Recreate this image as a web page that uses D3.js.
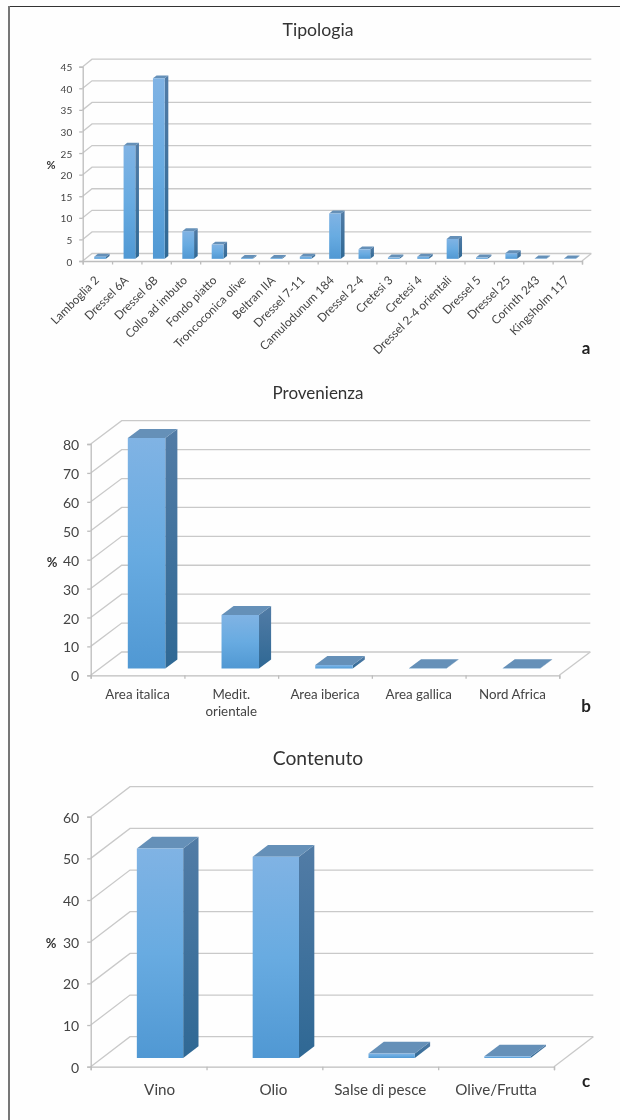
<!DOCTYPE html>
<html>
<head>
<meta charset="utf-8">
<script src="https://cdn.jsdelivr.net/npm/d3@7"></script>
<style>
    html, body { margin: 0; padding: 0; background: #fff; }
    svg { display: block; filter: blur(0.4px); }
    text { font-family: Lato, "Open Sans", sans-serif; fill: #444; }
</style>
</head>
<body>
<div id="chart"></div>
<script>
// Tipologia
const tipologiaCats = ["Lamboglia 2", "Dressel 6A", "Dressel 6B", "Collo ad imbuto", "Fondo piatto",
    "Troncoconica olive", "Beltran IIA", "Dressel 7-11", "Camulodunum 184", "Dressel 2-4", "Cretesi 3",
    "Cretesi 4", "Dressel 2-4 orientali", "Dressel 5", "Dressel 25", "Corinth 243", "Kingsholm 117"];
const tipologiaVals = [0.5, 26.2, 41.8, 6.4, 3.3, 0.2, 0.2, 0.5, 10.5, 2.2, 0.3, 0.5, 4.6, 0.3, 1.3, 0.1, 0.1];
const tipologiaTicks = [0, 5, 10, 15, 20, 25, 30, 35, 40, 45];

// Provenienza
const provenienzaCats = ["Area italica", "Medit.\norientale", "Area iberica", "Area gallica", "Nord Africa"];
const provenienzaVals = [79.7, 18.5, 1.2, 0.1, 0.1];
const provenienzaTicks = [0, 10, 20, 30, 40, 50, 60, 70, 80];

// Contenuto
const contenutoCats = ["Vino", "Olio", "Salse di pesce", "Olive/Frutta"];
const contenutoVals = [50.3, 48.3, 1.1, 0.4];
const contenutoTicks = [0, 10, 20, 30, 40, 50, 60];

const gridColor = "#c9c9c9";

const svg = d3.select("#chart").append("svg")
    .attr("width", 620)
    .attr("height", 1120);

const defs = svg.append("defs");

// Excel style gradients for the 3d bars
function addGradient(id, stops) {
    const g = defs.append("linearGradient")
        .attr("id", id)
        .attr("x1", 0).attr("y1", 0)
        .attr("x2", 0).attr("y2", 1);
    stops.forEach(s => g.append("stop").attr("offset", s[0]).attr("stop-color", s[1]));
}
addGradient("barFront", [[0, "#80b3e4"], [0.5, "#68abe1"], [1, "#5098d3"]]);
addGradient("barSide", [[0, "#527ca6"], [1, "#2f6894"]]);

svg.append("rect").attr("width", 620).attr("height", 1120).attr("fill", "#fefefe");

// page frame, only top and left
svg.append("line").attr("x1", 9).attr("x2", 620).attr("y1", 6.5).attr("y2", 6.5)
    .attr("stroke", "#333").attr("stroke-width", 1);
svg.append("line").attr("x1", 9).attr("x2", 9).attr("y1", 6).attr("y2", 1120)
    .attr("stroke", "#777").attr("stroke-width", 2);

function draw3dChart(cfg) {
    const g = svg.append("g");

    const x = d3.scaleBand().domain(cfg.cats).range([cfg.left, cfg.right]).paddingInner(0).paddingOuter(0);
    const y = d3.scaleLinear().domain([0, d3.max(cfg.ticks)]).range([cfg.bottom, cfg.top]);

    // d = depth into the chart, 0 is the front plane and 1 the back wall
    const px = (sx, d) => sx + d * cfg.dx;
    const py = (v, d) => y(v) - d * cfg.dy;
    const poly = pts => pts.map(p => p.join(",")).join(" ");

    // back wall and side wall lines
    cfg.ticks.forEach(t => {
        g.append("polyline")
            .attr("points", poly([[px(cfg.left, 0), py(t, 0)], [px(cfg.left, 1), py(t, 1)], [px(cfg.right, 1), py(t, 1)]]))
            .attr("fill", "none")
            .attr("stroke", gridColor)
            .attr("stroke-width", 1.3);
    });

    // floor edges
    g.append("polyline")
        .attr("points", poly([[px(cfg.right, 0), py(0, 0)], [px(cfg.right, 1), py(0, 1)]]))
        .attr("fill", "none")
        .attr("stroke", gridColor)
        .attr("stroke-width", 1.3);

    // y axis
    const yAxis = g.append("g")
        .attr("transform", `translate(${cfg.left},0)`)
        .call(d3.axisLeft(y).tickValues(cfg.ticks).tickSize(3.5).tickPadding(cfg.tickPad).tickFormat(d3.format("d")));
    yAxis.selectAll("text").style("font-size", cfg.tickFont + "px").attr("dy", "0.4em");

    // x axis ticks sit between the categories
    const xEdges = d3.scaleLinear().domain([0, cfg.cats.length]).range([cfg.left, cfg.right]);
    const xAxis = g.append("g")
        .attr("transform", `translate(0,${cfg.bottom})`)
        .call(d3.axisBottom(xEdges).tickValues(d3.range(cfg.cats.length + 1)).tickSize(3.5).tickFormat(""));

    g.selectAll(".domain, .tick line")
        .attr("stroke", "#bdbdbd")
        .attr("stroke-width", 1.3);

    // x labels
    const labels = g.append("g").selectAll("text")
        .data(cfg.cats)
        .enter().append("text")
        .style("font-size", cfg.labelFont + "px");

    if (cfg.rotate) {
        labels
            .attr("text-anchor", "end")
            .attr("transform", d => `translate(${x(d) + x.bandwidth() / 2 + 2.5},${cfg.bottom + 20}) rotate(${cfg.rotate})`)
            .text(d => d);
    } else {
        labels
            .attr("text-anchor", "middle")
            .each(function(d, i) {
                const shift = cfg.labelShift ? cfg.labelShift[i] : 0;
                d.split("\n").forEach((line, k) => {
                    d3.select(this).append("tspan")
                        .attr("x", x(d) + x.bandwidth() / 2 + shift)
                        .attr("y", cfg.bottom + cfg.labelGap + k * (cfg.labelFont + 3))
                        .text(line);
                });
            });
    }

    // bars, each is 3 polygons
    const d0 = 0.29, d1 = 0.68;
    const barW = x.bandwidth() * 0.4;
    const barGroups = g.append("g").selectAll("g")
        .data(cfg.vals)
        .enter().append("g");

    const xl = i => x(cfg.cats[i]) + (x.bandwidth() - barW) / 2;
    const xr = i => xl(i) + barW;

    barGroups.append("polygon")
        .attr("points", (v, i) => poly([[px(xr(i), d0), py(v, d0)], [px(xr(i), d1), py(v, d1)], [px(xr(i), d1), py(0, d1)], [px(xr(i), d0), py(0, d0)]]))
        .attr("fill", "url(#barSide)");
    barGroups.append("polygon")
        .attr("points", (v, i) => poly([[px(xl(i), d0), py(v, d0)], [px(xl(i), d1), py(v, d1)], [px(xr(i), d1), py(v, d1)], [px(xr(i), d0), py(v, d0)]]))
        .attr("fill", "#6590b8");
    barGroups.append("polygon")
        .attr("points", (v, i) => poly([[px(xl(i), d0), py(v, d0)], [px(xr(i), d0), py(v, d0)], [px(xr(i), d0), py(0, d0)], [px(xl(i), d0), py(0, d0)]]))
        .attr("fill", "url(#barFront)");

    // title, % and panel letter
    g.append("text")
        .attr("x", 318).attr("y", cfg.titleY)
        .attr("text-anchor", "middle")
        .style("font-size", cfg.titleFont + "px")
        .style("fill", "#333")
        .text(cfg.title);

    g.append("text")
        .attr("x", cfg.pctX).attr("y", cfg.pctY)
        .attr("text-anchor", "middle")
        .style("font-size", cfg.pctFont + "px")
        .style("font-weight", "bold")
        .style("fill", "#333")
        .text("%");

    g.append("text")
        .attr("x", 586).attr("y", cfg.letterY)
        .attr("text-anchor", "middle")
        .style("font-size", "17px")
        .style("font-weight", "bold")
        .style("fill", "#222")
        .text(cfg.letter);
}

draw3dChart({
    title: "Tipologia", titleY: 36, titleFont: 17.7,
    cats: tipologiaCats, vals: tipologiaVals, ticks: tipologiaTicks,
    left: 82.7, right: 582, top: 66.7, bottom: 261, dx: 9.3, dy: 7.5,
    tickFont: 10, tickPad: 7, labelFont: 11.8, rotate: -45,
    pctX: 51, pctY: 169, pctFont: 11,
    letter: "a", letterY: 354
});

draw3dChart({
    title: "Provenienza", titleY: 399, titleFont: 17,
    cats: provenienzaCats, vals: provenienzaVals, ticks: provenienzaTicks,
    left: 90.7, right: 559.3, top: 444, bottom: 675.3, dx: 31, dy: 23.3,
    tickFont: 14, tickPad: 8, labelFont: 13.3, labelGap: 24,
    pctX: 52, pctY: 567, pctFont: 13,
    letter: "b", letterY: 712
});

draw3dChart({
    title: "Contenuto", titleY: 765, titleFont: 19.3,
    cats: contenutoCats, vals: contenutoVals, ticks: contenutoTicks,
    left: 90.7, right: 554, top: 816.7, bottom: 1066.7, dx: 39.3, dy: 30,
    tickFont: 14, tickPad: 8, labelFont: 15.2, labelGap: 28, labelShift: [11, 9, 0, 0],
    pctX: 51, pctY: 948, pctFont: 13,
    letter: "c", letterY: 1087
});
</script>
</body>
</html>
